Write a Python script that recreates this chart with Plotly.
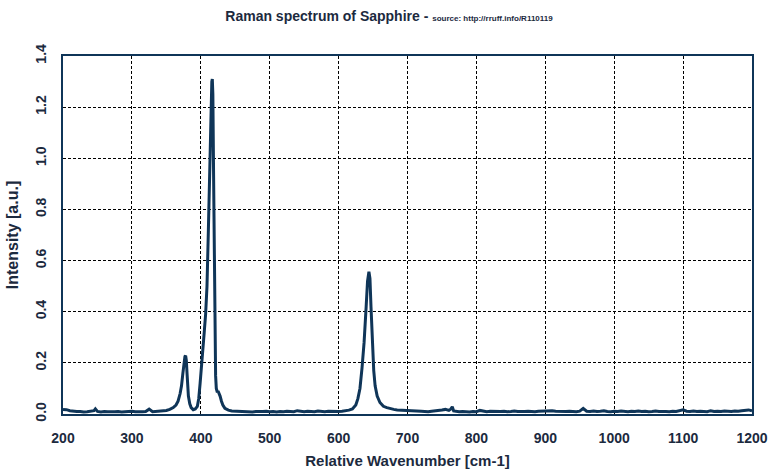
import plotly.graph_objects as go

# Raman shift (cm-1) and intensity (a.u.)
wavenumber = [
    200, 205, 210, 215, 220, 225, 230, 235, 240, 245, 247, 250, 255, 260, 265, 270,
    275, 280, 285, 290, 295, 300, 305, 310, 315, 320, 325, 330, 335, 340, 345, 350,
    355, 360, 364, 367, 370, 372, 374, 376, 377, 378, 379, 380, 381, 382, 384, 386,
    389, 392, 395, 397, 399, 401, 403, 405, 407, 409, 411, 412, 413, 414, 415, 416,
    416.7, 417.5, 418.5, 419.5, 420.5, 421.5, 422.5, 424, 425, 426, 428, 430, 432, 435,
    440, 445, 450, 455, 460, 465, 470, 475, 480, 485, 490, 495, 500, 505, 510, 515,
    520, 525, 530, 535, 540, 545, 550, 555, 560, 565, 570, 575, 580, 585, 590, 595,
    600, 605, 610, 615, 620, 625, 628, 631, 634, 637, 640, 642, 644, 645.5, 647, 649,
    651, 653, 656, 660, 665, 670, 675, 680, 685, 690, 695, 700, 705, 710, 715, 720,
    725, 730, 735, 740, 745, 750, 755, 760, 763, 765, 767, 770, 775, 780, 785, 790,
    795, 800, 805, 810, 815, 820, 825, 830, 835, 840, 845, 850, 855, 860, 865, 870,
    875, 880, 885, 890, 895, 900, 905, 910, 915, 920, 925, 930, 935, 940, 945, 950,
    955, 960, 965, 970, 975, 980, 985, 990, 995, 1000, 1005, 1010, 1015, 1020, 1025, 1030,
    1035, 1040, 1045, 1050, 1055, 1060, 1065, 1070, 1075, 1080, 1085, 1090, 1095, 1100, 1105, 1110,
    1115, 1120, 1125, 1130, 1135, 1140, 1145, 1150, 1155, 1160, 1165, 1170, 1175, 1180, 1185, 1190,
    1195, 1200,
]
intensity = [
    0.018, 0.017, 0.013, 0.011, 0.010, 0.010, 0.008, 0.009, 0.010, 0.013, 0.020, 0.010, 0.008, 0.010, 0.009, 0.008,
    0.009, 0.010, 0.008, 0.009, 0.010, 0.011, 0.009, 0.008, 0.009, 0.010, 0.019, 0.009, 0.010, 0.011, 0.012, 0.014,
    0.018, 0.025, 0.035, 0.050, 0.080, 0.110, 0.160, 0.210, 0.225, 0.228, 0.210, 0.160, 0.110, 0.070, 0.040, 0.025,
    0.017, 0.020, 0.030, 0.060, 0.120, 0.200, 0.260, 0.320, 0.390, 0.500, 0.720, 0.850, 1.000, 1.150, 1.260, 1.300,
    1.310, 1.250, 0.950, 0.600, 0.300, 0.150, 0.100, 0.085, 0.090, 0.085, 0.070, 0.050, 0.035, 0.022,
    0.015, 0.012, 0.011, 0.010, 0.009, 0.010, 0.009, 0.008, 0.010, 0.009, 0.010, 0.011, 0.009, 0.010, 0.008, 0.010,
    0.009, 0.011, 0.010, 0.009, 0.013, 0.010, 0.009, 0.011, 0.010, 0.009, 0.012, 0.010, 0.009, 0.011, 0.010, 0.009,
    0.010, 0.011, 0.012, 0.015, 0.020, 0.035, 0.060, 0.100, 0.180, 0.280, 0.420, 0.520, 0.556, 0.530, 0.420, 0.280,
    0.170, 0.110, 0.070, 0.045, 0.030, 0.025, 0.020, 0.018, 0.016, 0.015, 0.013, 0.012, 0.011, 0.012, 0.010, 0.011,
    0.010, 0.009, 0.011, 0.012, 0.013, 0.016, 0.018, 0.014, 0.020, 0.028, 0.012, 0.010, 0.009, 0.010, 0.009, 0.008,
    0.010, 0.009, 0.014, 0.010, 0.009, 0.011, 0.010, 0.009, 0.010, 0.011, 0.009, 0.010, 0.012, 0.010, 0.009, 0.010,
    0.011, 0.010, 0.009, 0.011, 0.012, 0.013, 0.014, 0.013, 0.011, 0.010, 0.009, 0.010, 0.011, 0.010, 0.009, 0.011,
    0.022, 0.011, 0.010, 0.012, 0.010, 0.011, 0.013, 0.010, 0.009, 0.011, 0.010, 0.012, 0.010, 0.009, 0.011, 0.010,
    0.012, 0.010, 0.011, 0.009, 0.010, 0.012, 0.010, 0.011, 0.010, 0.009, 0.011, 0.010, 0.012, 0.016, 0.011, 0.010,
    0.012, 0.010, 0.011, 0.010, 0.009, 0.013, 0.010, 0.011, 0.010, 0.012, 0.011, 0.010, 0.012, 0.011, 0.013, 0.014,
    0.016, 0.012,
]

x_ticks = [200, 300, 400, 500, 600, 700, 800, 900, 1000, 1100, 1200]
y_ticks = [0.0, 0.2, 0.4, 0.6, 0.8, 1.0, 1.2, 1.4]

NAVY = "#0f3558"
TEXT = "#1c2a3e"
FONT = "Liberation Sans, Arial, sans-serif"

fig = go.Figure()
fig.add_trace(go.Scatter(
    x=wavenumber, y=intensity, mode="lines",
    line=dict(color=NAVY, width=3),
    showlegend=False, hoverinfo="skip",
))

fig.update_layout(
    width=778, height=469,
    margin=dict(l=63, r=26, t=56, b=55, autoexpand=False),
    paper_bgcolor="white", plot_bgcolor="white",
    title=dict(
        text="Raman spectrum of Sapphire - <span style='font-size:8px'>source: http://rruff.info/R110119</span>",
        x=0.5, xanchor="center", y=0.965, yanchor="middle",
        font=dict(family=FONT, size=14, color=TEXT, weight="bold"),
    ),
)

fig.update_xaxes(
    range=[200, 1200], tickvals=x_ticks, ticktext=[str(v) for v in x_ticks],
    showgrid=True, gridcolor="#000000", gridwidth=1, griddash="3px,2px",
    showline=True, linecolor=NAVY, linewidth=1.5, mirror=True,
    ticks="", zeroline=False, ticklabelstandoff=10, automargin=False,
    tickfont=dict(family=FONT, size=14, color=TEXT, weight="bold"),
    title=dict(text="Relative Wavenumber [cm-1]", standoff=11,
               font=dict(family=FONT, size=15, color=TEXT, weight="bold")),
)
fig.update_yaxes(
    range=[0, 1.4], tickvals=y_ticks, ticktext=[f"{v:.1f}" for v in y_ticks],
    tickangle=-90,
    showgrid=True, gridcolor="#000000", gridwidth=1, griddash="3px,2px",
    showline=True, linecolor=NAVY, linewidth=1.5, mirror=True,
    ticks="", zeroline=False, ticklabelstandoff=10, automargin=False,
    tickfont=dict(family=FONT, size=14, color=TEXT, weight="bold"),
    title=dict(text="Intensity [a.u.]", standoff=10,
               font=dict(family=FONT, size=16, color=TEXT, weight="bold")),
)

fig.write_html("out.html")
